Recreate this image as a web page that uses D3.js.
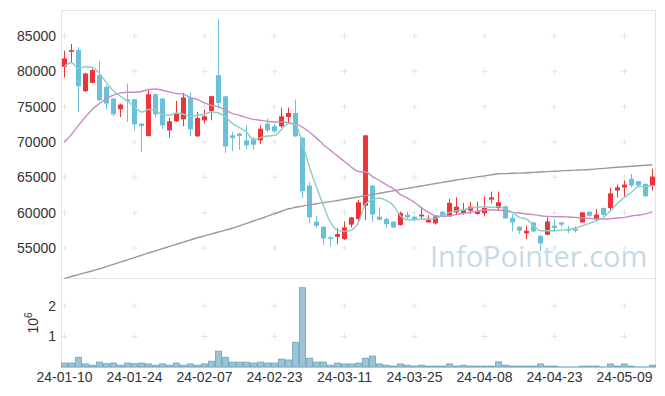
<!DOCTYPE html>
<html>
<head>
<meta charset="utf-8">
<script src="https://cdn.jsdelivr.net/npm/d3@7"></script>
<style>
  body { margin: 0; background: #fff; }
  text { font-family: "Liberation Sans", Arial, sans-serif; }
</style>
</head>
<body>
<div id="my_dataviz"></div>
<script>
// trading days (2024)
var dates = ["01-10","01-11","01-12","01-15","01-16","01-17","01-18","01-19","01-22","01-23",
  "01-24","01-25","01-26","01-29","01-30","01-31","02-01","02-02","02-05","02-06",
  "02-07","02-08","02-13","02-14","02-15","02-16","02-19","02-20","02-21","02-22",
  "02-23","02-26","02-27","02-28","02-29","03-04","03-05","03-06","03-07","03-08",
  "03-11","03-12","03-13","03-14","03-15","03-18","03-19","03-20","03-21","03-22",
  "03-25","03-26","03-27","03-28","03-29","04-01","04-02","04-03","04-04","04-05",
  "04-08","04-09","04-11","04-12","04-15","04-16","04-17","04-18","04-19","04-22",
  "04-23","04-24","04-25","04-26","04-29","04-30","05-02","05-03","05-07","05-08",
  "05-09","05-10","05-13","05-14","05-16"];

var open = [80640,82770,83010,77190,78370,79460,77800,76150,74630,76050,
  76050,72600,70840,76760,76150,71650,72930,73210,76240,70800,
  73070,74390,79460,76480,70940,71220,70230,70470,70230,72600,
  72220,72220,73540,74110,70610,63840,58720,58010,56500,56590,
  56260,58300,59100,60990,63840,59430,59100,58720,58250,59720,
  59430,59470,58620,58480,60140,59470,60040,59960,60280,59820,
  59900,61850,60670,60890,59250,58010,57060,58620,56730,56870,
  58150,58620,57690,57700,58620,60140,59000,60670,60670,63130,
  63550,64790,64450,64080,63840];
var high = [82910,83860,83400,79790,80360,81450,78040,76200,75440,78280,
  76100,72690,77330,76860,76200,73450,75810,76950,77000,74250,
  74590,76500,87370,76500,71410,71300,72360,70700,72360,73310,
  72600,74870,74870,76010,70700,64300,59570,58050,56730,57830,
  58760,59400,61800,70940,63900,60750,59330,58800,60180,60180,
  59570,60670,59670,59570,60200,61950,62170,61380,61560,61560,
  62320,62980,62980,61000,59820,58050,58150,58700,56800,59330,
  59100,58720,58150,58100,60100,60200,60530,60700,63490,63980,
  64550,65500,64500,64100,66210];
var low = [79130,81210,74250,77090,78320,75800,74590,73640,73540,72830,
  71650,68570,70800,73450,71890,70610,72830,72260,70840,70700,
  72600,73070,74730,68420,68710,68910,69050,68910,69760,71410,
  71260,72030,72600,70700,62090,58480,57830,55450,55210,55550,
  56120,57910,58860,58960,58720,58960,57830,57830,58150,59100,
  58760,59100,58600,58300,59330,59400,59720,59720,59820,59720,
  59470,61320,60280,59100,57340,56970,56260,57200,54600,56800,
  57200,57910,57120,57200,58600,59430,58950,59570,60380,62170,
  62270,63590,63690,62250,63130];
var close = [81830,83010,77900,79700,80170,75910,75440,73920,75300,75810,
  72500,72260,76760,73920,72360,72930,74020,76290,71790,73390,
  73640,76480,75530,69380,70550,70840,69520,69620,71890,71650,
  71510,73640,74110,70800,63030,59330,58150,56360,56260,56970,
  57910,59330,61460,70940,59720,59000,58390,57910,59960,59330,
  58960,59720,59000,59470,59430,61380,60850,60430,60850,60180,
  60670,62170,61460,59190,58620,57440,57440,57340,55640,58760,
  57830,58300,57440,57450,60040,59570,59720,59670,62740,63590,
  63980,63840,63840,62320,65110];
var volume = [130000,130000,320000,100000,60000,160000,110000,130000,60000,130000,
  110000,130000,100000,60000,100000,60000,130000,60000,100000,60000,
  100000,190000,520000,320000,160000,160000,160000,130000,160000,130000,
  130000,260000,230000,810000,2600000,290000,160000,160000,60000,130000,
  100000,100000,130000,290000,360000,100000,60000,30000,100000,60000,
  30000,60000,30000,30000,30000,100000,30000,60000,30000,30000,
  30000,30000,170000,60000,30000,30000,30000,30000,100000,30000,
  30000,5000,5000,5000,30000,30000,30000,5000,100000,30000,
  100000,30000,5000,5000,60000];

// moving averages
var ma5 = [80740,81210,80410,80640,80550,79700,78370,77230,76480,75810,
  74960,74250,74590,74490,73780,73780,74100,73920,73640,73780,
  73920,74250,74100,73540,72600,72030,71410,70330,70610,70840,
  70940,71750,72600,72460,69760,66430,63590,60990,58620,57540,
  57340,57540,58620,61240,61850,62030,61700,60990,59570,59000,
  59000,59100,59100,59190,59570,60040,60280,60380,60670,60750,
  60850,60750,60850,60530,60040,59330,59100,58150,57440,57440,
  57440,57540,57630,57830,58150,58480,58860,59330,60280,61320,
  62170,62880,63690,63690,63840];
var ma20 = [69990,71080,72360,73540,74630,75440,76150,76620,76950,77050,
  77050,77150,77430,77510,77330,77090,76860,76760,76290,76010,
  75530,75160,74960,74490,74020,73780,73450,73210,73070,72930,
  72830,72830,72740,72530,72120,71410,70550,69620,68810,68000,
  67240,66430,65820,65780,65110,64550,63930,63370,62560,62060,
  61460,60670,60040,59570,59470,59570,59720,59900,60040,60190,
  60380,60380,60380,60280,60040,59960,59820,59720,59570,59470,
  59430,59430,59390,59330,59250,59190,59100,59100,59150,59250,
  59330,59530,59670,59820,60140];
var maLong = [50700,50970,51240,51510,51780,52050,52370,52690,53010,53330,
  53650,53970,54300,54600,54910,55220,55530,55840,56150,56450,
  56720,56990,57260,57530,57800,58140,58480,58820,59150,59500,
  59850,60200,60550,60760,60930,61100,61260,61420,61560,61730,
  61900,62070,62240,62410,62580,62750,62920,63100,63270,63440,
  63610,63780,63950,64120,64290,64450,64620,64790,64930,65070,
  65210,65360,65500,65530,65570,65600,65640,65700,65760,65810,
  65870,65920,65970,66020,66060,66110,66190,66270,66350,66430,
  66500,66570,66640,66710,66780];

var priceTicks = [55000,60000,65000,70000,75000,80000,85000];
var volTicks = [1000000,2000000];
var dateTicks = [0,10,20,30,40,50,60,70,80];

// layout
var plotLeft = 61, plotRight = 656, plotTop = 10, plotMid = 278, plotBottom = 367;

var svg = d3.select("#my_dataviz")
  .append("svg")
    .attr("width", 665)
    .attr("height", 396);

var idx = d3.range(dates.length);

var x = d3.scaleBand()
  .domain(idx)
  .range([plotLeft, plotRight])
  .padding(0);
var bw = x.bandwidth();
var cx = function(i) { return x(i) + bw / 2; };

var y = d3.scaleLinear()
  .domain([50755, 88679])
  .range([plotMid, plotTop]);

var yv = d3.scaleLinear()
  .domain([0, 2918000])
  .range([plotBottom, plotMid]);

// frame
var frame = svg.append("g")
  .attr("stroke", "#e3e3e3")
  .attr("stroke-width", 1)
  .attr("fill", "none");
frame.append("rect").attr("x", plotLeft + 0.5).attr("y", plotTop + 0.5)
  .attr("width", plotRight - plotLeft - 1).attr("height", plotBottom - plotTop);
frame.append("line").attr("x1", plotLeft).attr("x2", plotRight)
  .attr("y1", plotMid + 0.5).attr("y2", plotMid + 0.5);

// grid crosses
function crosses(rows, scale) {
  var pts = [];
  dateTicks.forEach(function(i) {
    rows.forEach(function(r) { pts.push([cx(i), scale(r)]); });
  });
  svg.append("g")
    .selectAll("path")
    .data(pts)
    .join("path")
      .attr("d", function(d) {
        return "M" + (d[0] - 3) + "," + d[1] + "h6M" + d[0] + "," + (d[1] - 3) + "v6";
      })
      .attr("stroke", "#e4e4e4")
      .attr("stroke-width", 1);
}
crosses(priceTicks, y);
crosses(volTicks, yv);

// watermark
svg.append("text")
  .attr("x", 430)
  .attr("y", 267)
  .attr("fill", "#c6dae5")
  .style("font-family", "'Open Sans', sans-serif")
  .style("font-size", "29px")
  .text("InfoPointer.com");

// volume bars
svg.append("g")
  .selectAll("rect")
  .data(idx)
  .join("rect")
    .attr("x", function(i) { return x(i) + 0.5; })
    .attr("width", bw - 1)
    .attr("y", function(i) { return yv(volume[i]); })
    .attr("height", function(i) { return plotBottom - yv(volume[i]); })
    .attr("fill", "#9dc4d4")
    .attr("stroke", "#6aa3bb")
    .attr("stroke-width", 0.8);

// candles
var upColor = "#ec3539", downColor = "#6bc0d9";
var candle = svg.append("g")
  .selectAll("g")
  .data(idx)
  .join("g");

candle.append("line")
  .attr("x1", cx).attr("x2", cx)
  .attr("y1", function(i) { return y(high[i]); })
  .attr("y2", function(i) { return y(low[i]); })
  .attr("stroke", function(i) { return close[i] >= open[i] ? upColor : downColor; })
  .attr("stroke-width", 1);

candle.append("rect")
  .attr("x", function(i) { return cx(i) - bw * 0.36; })
  .attr("width", bw * 0.72)
  .attr("y", function(i) { return y(Math.max(open[i], close[i])); })
  .attr("height", function(i) { return Math.max(1.5, Math.abs(y(open[i]) - y(close[i]))); })
  .attr("fill", function(i) { return close[i] >= open[i] ? upColor : downColor; });

// moving averages
function maLine(values, color) {
  svg.append("path")
    .datum(idx)
    .attr("fill", "none")
    .attr("stroke", color)
    .attr("stroke-width", 1.4)
    .attr("d", d3.line()
      .x(cx)
      .y(function(i) { return y(values[i]); })
      .curve(d3.curveMonotoneX));
}
maLine(maLong, "#9a9a9a");
maLine(ma20, "#c98bc5");
maLine(ma5, "#8ccfc1");

// axes
var yAxis = svg.append("g")
  .attr("transform", "translate(" + plotLeft + ",0)")
  .call(d3.axisLeft(y).tickValues(priceTicks).tickSize(0).tickPadding(5)
    .tickFormat(d3.format("d")));
var vAxis = svg.append("g")
  .attr("transform", "translate(" + plotLeft + ",0)")
  .call(d3.axisLeft(yv).tickValues(volTicks).tickSize(0).tickPadding(5)
    .tickFormat(function(d) { return d / 1e6; }));
var xAxis = svg.append("g")
  .attr("transform", "translate(0," + plotBottom + ")")
  .call(d3.axisBottom(x).tickValues(dateTicks).tickSize(0).tickPadding(5)
    .tickFormat(function(i) { return "24-" + dates[i]; }));

[yAxis, vAxis, xAxis].forEach(function(a) {
  a.select(".domain").remove();
  a.selectAll("text")
    .attr("fill", "#333")
    .style("font-size", "14px")
    .style("font-family", "'Liberation Sans', Arial, sans-serif");
});

// volume unit label
var unit = svg.append("text")
  .attr("transform", "translate(38,323) rotate(-90)")
  .attr("text-anchor", "middle")
  .attr("fill", "#333")
  .style("font-size", "14px");
unit.append("tspan").text("10");
unit.append("tspan").attr("dy", -6).style("font-size", "10px").text("6");
</script>
</body>
</html>
